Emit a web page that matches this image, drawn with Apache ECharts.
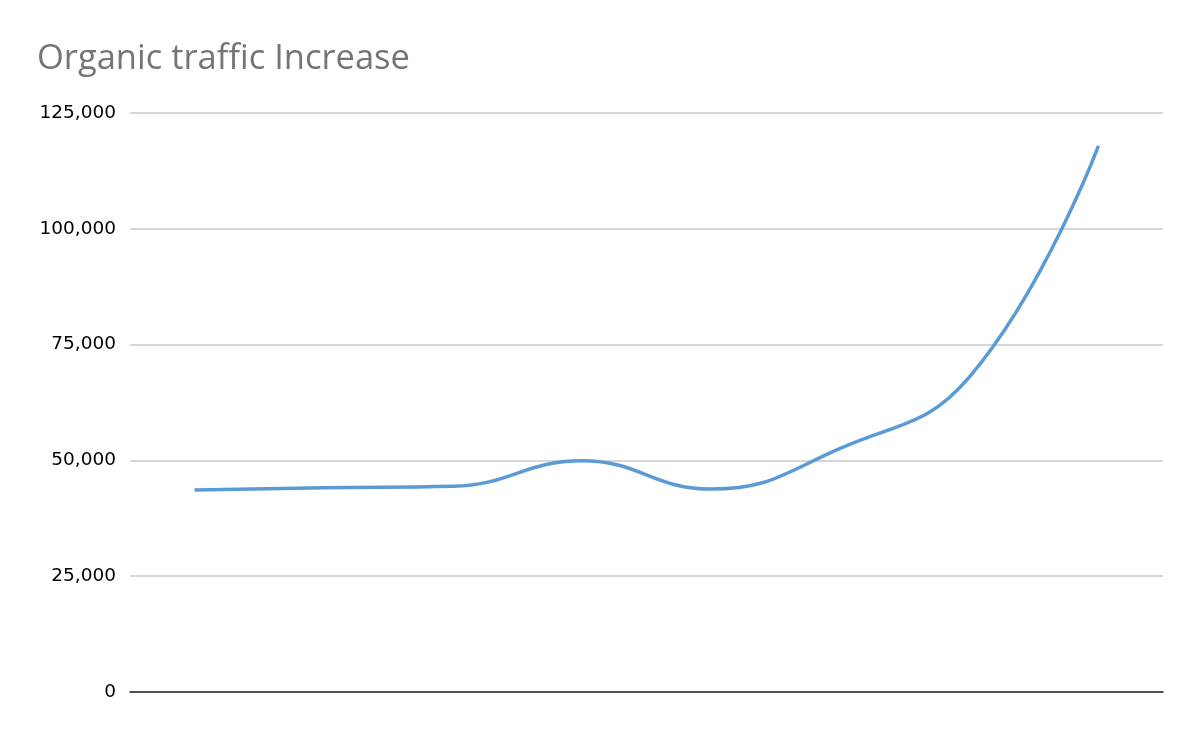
<!DOCTYPE html>
<html>
<head>
<meta charset="utf-8">
<script src="https://cdn.jsdelivr.net/npm/echarts@6/dist/echarts.min.js"></script>
<style>
  html, body { margin: 0; padding: 0; background: #fff; }
  #chart { width: 1200px; height: 742px; }
</style>
</head>
<body>
<div id="chart"></div>
<script>
// categories have no visible labels in the original
var periods = ['1', '2', '3', '4', '5', '6', '7', '8']
var traffic = [43600, 44100, 44400, 49900, 43800, 52600, 68000, 117900]
var yTicks = { min: 0, max: 125000, interval: 25000 }

var chart = echarts.init(document.getElementById('chart'))
chart.setOption({
  animation: false,
  title: {
    text: 'Organic traffic Increase',
    left: 32,
    top: 37,
    textStyle: {
      color: '#757575',
      fontFamily: 'Open Sans',
      fontWeight: 'normal',
      fontSize: 34.5
    }
  },
  grid: {
    left: 130,
    right: 37,
    top: 113,
    bottom: 50
  },
  xAxis: {
    type: 'category',
    data: periods,
    boundaryGap: true,
    axisTick: { show: false },
    axisLabel: { show: false },
    axisLine: { lineStyle: { color: '#262626', width: 1.5 } }
  },
  yAxis: {
    type: 'value',
    min: yTicks.min,
    max: yTicks.max,
    interval: yTicks.interval,
    axisLine: { show: false },
    axisTick: { show: false },
    axisLabel: {
      color: '#000',
      fontFamily: 'DejaVu Sans',
      fontSize: 18.5,
      margin: 14,
      formatter: function (v) { return v.toLocaleString('en-US') }
    },
    splitLine: { lineStyle: { color: '#c8c8c8', width: 1.5 } }
  },
  series: [{
    name: 'Organic traffic',
    type: 'line',
    data: traffic,
    smooth: 0.45,
    showSymbol: false,
    lineStyle: { color: '#5b9bd5', width: 3.5, cap: 'butt' }
  }]
})
</script>
</body>
</html>
